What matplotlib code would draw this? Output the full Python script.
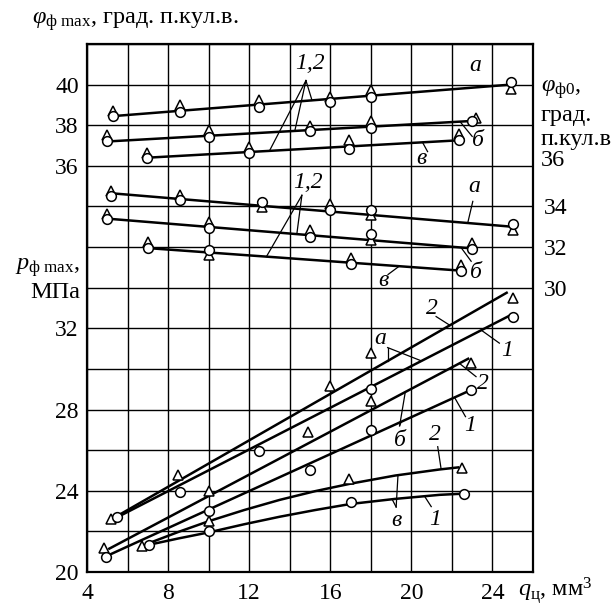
import numpy as np
import matplotlib
matplotlib.use("Agg")
import matplotlib.pyplot as plt

plt.rcParams['font.family'] = ['Liberation Serif', 'DejaVu Serif']
plt.rcParams['mathtext.fontset'] = 'custom'
plt.rcParams['mathtext.rm'] = 'Liberation Serif'
plt.rcParams['mathtext.it'] = 'Liberation Serif:italic'

# all three scales share one axis: angles are drawn shifted by +4
SHIFT = 4

# --- phi_max, deg (upper group) ---
qa_max = [5.3, 8.6, 12.5, 16.0, 18.0, 24.9]
fmax_a1 = [38.45, 38.65, 38.9, 39.15, 39.4, 40.15]
fmax_a2 = [38.7, 39.0, 39.25, 39.4, 39.75, 39.8]
qb_max = [5.0, 10.0, 15.0, 18.0, 23.0]
qb_max2 = [5.0, 10.0, 15.0, 18.0, 23.2]
fmax_b1 = [37.2, 37.4, 37.7, 37.85, 38.2]
fmax_b2 = [37.5, 37.75, 37.95, 38.2, 38.35]
qv_max = [6.95, 12.0, 16.9, 22.35]
fmax_v1 = [36.4, 36.65, 36.85, 37.25]
fmax_v2 = [36.65, 36.95, 37.25, 37.55]
fit_max = {'a': ([5.3, 24.9], [38.45, 40.0]),
           'b': ([5.0, 22.8], [37.2, 38.2]),
           'v': ([6.95, 22.2], [36.4, 37.25])}

# --- phi_0, deg (middle group) ---
qa_0 = [5.2, 8.6, 12.65, 16.0, 18.0, 25.0]
f0_a1 = [34.5, 34.3, 34.2, 33.85, 33.85, 33.15]
f0_a2 = [34.75, 34.55, 33.95, 34.1, 33.6, 32.85]
qb_0 = [5.0, 10.0, 15.0, 18.0, 23.0]
f0_b1 = [33.4, 32.95, 32.5, 32.65, 31.9]
f0_b2 = [33.65, 33.25, 32.85, 32.35, 32.2]
qv_0 = [7.0, 10.0, 17.0, 22.45]
f0_v1 = [31.95, 31.85, 31.15, 30.8]
f0_v2 = [32.25, 31.6, 31.45, 31.1]
fit_0 = {'a': ([5.2, 25.0], [34.65, 33.0]),
         'b': ([5.0, 22.8], [33.4, 31.95]),
         'v': ([7.0, 22.3], [31.95, 30.85])}

# --- p_max, MPa (lower group) ---
qa_p2 = [5.2, 8.5, 16.0, 18.0, 25.0]
p_a2 = [22.6, 24.8, 29.15, 30.8, 33.5]
qa_p1 = [5.5, 8.6, 12.5, 18.0, 25.0]
p_a1 = [22.7, 23.95, 25.95, 29.0, 32.55]
qb_p2 = [4.85, 10.0, 14.9, 18.0, 22.95]
p_b2 = [21.2, 24.0, 26.9, 28.4, 30.3]
qb_p1 = [4.95, 10.0, 15.0, 18.0, 22.95]
p_b1 = [20.75, 23.0, 25.0, 27.0, 28.95]
qv_p2 = [6.7, 10.0, 16.9, 22.5]
p_v2 = [21.3, 22.5, 24.6, 25.1]
qv_p1 = [7.05, 10.0, 17.0, 22.6]
p_v1 = [21.35, 22.0, 23.45, 23.85]
fit_p = {'a2': ([5.3, 24.7], [22.65, 33.75]),
         'a1': ([5.5, 24.8], [22.7, 32.6]),
         'b2': ([5.1, 22.8], [21.15, 30.5]),
         'b1': ([5.0, 22.8], [20.8, 28.9]),
         'v2': ([7.0, 8.5, 10.0, 11.75, 13.5, 15.25, 17.0, 19.2, 21.4, 22.3],
                [21.4, 21.97, 22.5, 23.05, 23.55, 23.98, 24.35, 24.75, 25.05, 25.15]),
         'v1': ([7.1, 8.5, 10.0, 11.75, 13.5, 15.25, 17.0, 19.2, 21.4, 22.4],
                [21.35, 21.65, 21.95, 22.35, 22.72, 23.05, 23.35, 23.6, 23.8, 23.85])}

W, H = 615, 606
fig = plt.figure(figsize=(W / 100, H / 100), dpi=100)
ax = fig.add_axes([87 / W, 1 - 572 / H, 446 / W, 528 / H])
ax.set_xlim(4, 26)
ax.set_ylim(20, 46)

ax.set_xticks(np.arange(4, 27, 2))
ax.set_xticklabels([str(v) if v % 4 == 0 and v < 26 else '' for v in range(4, 27, 2)])
ax.set_yticks(np.arange(20, 47, 2))
left_lab = {20: '20', 24: '24', 28: '28', 32: '32', 40: '36', 42: '38', 44: '40'}
ax.set_yticklabels([left_lab.get(v, '') for v in range(20, 47, 2)])
ax.tick_params(length=0, labelsize=17, pad=6)
ax.tick_params(axis='x', pad=8)
ax.grid(color='black', lw=1.0)
for s in ax.spines.values():
    s.set_linewidth(1.6)

ax2 = ax.twinx()
ax2.set_ylim(20, 46)
ax2.set_yticks([34, 36, 38])
ax2.set_yticklabels(['30', '32', '34'])
ax2.tick_params(length=0, labelsize=17, pad=8)
for s in ax2.spines.values():
    s.set_visible(False)

LW = 1.8
MS = 7


def fitline(xs, ys, shift=0):
    ax.plot(xs, np.asarray(ys) + shift, color='black', lw=LW, zorder=3)


def pts(xs, ys, marker, shift=0):
    ax.plot(xs, np.asarray(ys) + shift, ls='none', marker=marker, ms=MS,
            mfc='white', mec='black', mew=1.1, zorder=4)


for xs, ys in fit_max.values():
    fitline(xs, ys, SHIFT)
for xs, ys in fit_0.values():
    fitline(xs, ys, SHIFT)
for xs, ys in fit_p.values():
    fitline(xs, ys)

pts(qa_max, fmax_a2, '^', SHIFT); pts(qa_max, fmax_a1, 'o', SHIFT)
pts(qb_max2, fmax_b2, '^', SHIFT); pts(qb_max, fmax_b1, 'o', SHIFT)
pts(qv_max, fmax_v2, '^', SHIFT); pts(qv_max, fmax_v1, 'o', SHIFT)
pts(qa_0, f0_a2, '^', SHIFT); pts(qa_0, f0_a1, 'o', SHIFT)
pts(qb_0, f0_b2, '^', SHIFT); pts(qb_0, f0_b1, 'o', SHIFT)
pts(qv_0, f0_v2, '^', SHIFT); pts(qv_0, f0_v1, 'o', SHIFT)
pts(qa_p2, p_a2, '^'); pts(qa_p1, p_a1, 'o')
pts(qb_p2, p_b2, '^'); pts(qb_p1, p_b1, 'o')
pts(qv_p2, p_v2, '^'); pts(qv_p1, p_v1, 'o')


def on(line, x, shift=0):
    xs, ys = line
    return x, np.interp(x, xs, ys) + shift


def lbl(x, y, s, apex, targets):
    ax.text(x, y, s, fontsize=17, style='italic', ha='center', va='center', zorder=5)
    for tx, ty in targets:
        ax.plot([apex[0], tx], [apex[1], ty], color='black', lw=0.9, zorder=3)


# upper group labels
lbl(15.0, 45.05, '1,2', (14.8, 44.2),
    [on(fit_max['a'], 15.1, SHIFT), on(fit_max['b'], 14.25, SHIFT), on(fit_max['v'], 13.0, SHIFT)])
lbl(23.15, 44.95, 'а', None, [])
lbl(23.3, 41.25, 'б', (23.0, 41.45), [on(fit_max['b'], 22.4, SHIFT)])
lbl(20.5, 40.35, 'в', (20.8, 40.7), [on(fit_max['v'], 20.55, SHIFT)])

# middle group labels
lbl(14.9, 39.2, '1,2', (14.6, 38.55), [on(fit_0['b'], 14.35, SHIFT), on(fit_0['v'], 12.85, SHIFT)])
lbl(23.1, 39.0, 'а', (23.03, 38.25), [on(fit_0['a'], 22.78, SHIFT)])
lbl(23.2, 34.75, 'б', (22.95, 35.3), [on(fit_0['b'], 22.45, SHIFT)])
lbl(18.6, 34.35, 'в', (18.85, 34.65), [on(fit_0['v'], 19.4, SHIFT)])

# lower group labels
lbl(21.0, 33.0, '2', (21.22, 32.58), [on(fit_p['a2'], 21.9)])
lbl(24.7, 30.9, '1', (24.34, 31.27), [on(fit_p['a1'], 23.45)])
lbl(18.45, 31.5, 'а', (18.83, 31.05), [on(fit_p['a2'], 18.83), on(fit_p['a1'], 20.5)])
lbl(23.55, 29.3, '2', (23.19, 29.62), [on(fit_p['b2'], 22.37)])
lbl(22.9, 27.2, '1', (22.67, 27.65), [on(fit_p['b1'], 22.13)])
lbl(19.42, 26.5, 'б', (19.42, 27.2), [on(fit_p['b2'], 19.7), on(fit_p['b1'], 19.5)])
lbl(21.15, 26.75, '2', (21.3, 26.17), [on(fit_p['v2'], 21.47)])
lbl(19.25, 22.55, 'в', (19.25, 23.2), [on(fit_p['v2'], 19.34), on(fit_p['v1'], 19.05)])
lbl(21.15, 22.6, '1', (20.98, 23.22), [on(fit_p['v1'], 20.65)])

for t in ax.texts:
    t.set_clip_on(False)


def ftext(px, py, s, **kw):
    fig.text(px / W, 1 - py / H, s, fontsize=17.5, va='center', **kw)


ftext(32, 22, r'$\varphi_{\mathrm{ф\ max}}$, град. п.кул.в.', ha='left')
ftext(541, 90, r'$\varphi_{\mathrm{ф0}}$,', ha='left')
ftext(541, 115, 'град.', ha='left')
ftext(541, 140, 'п.кул.в', ha='left')
ftext(541, 160, '36', ha='left')
ftext(80, 268, r'$p_{\mathrm{ф\ max}}$,', ha='right')
ftext(80, 292, 'МПа', ha='right')
ftext(518, 590, r'$q_{\mathrm{ц}}$, мм$^3$', ha='left')

fig.savefig('out.png', dpi=100)
